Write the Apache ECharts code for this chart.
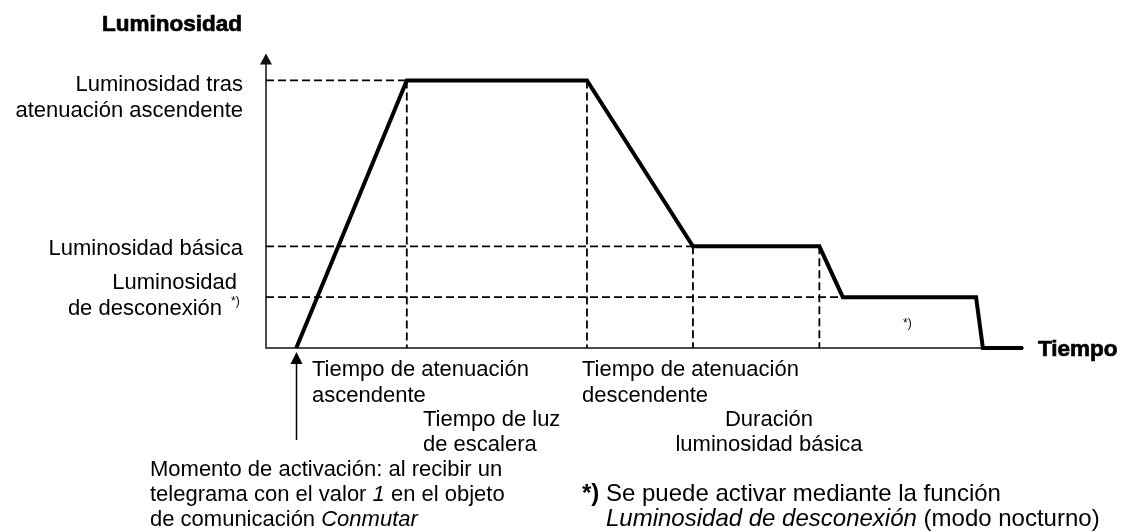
<!DOCTYPE html>
<html>
<head>
<meta charset="utf-8">
<script src="https://cdn.jsdelivr.net/npm/echarts@6/dist/echarts.min.js"></script>
<style>
  html, body { margin: 0; padding: 0; background: #fff; }
  #chart { width: 1145px; height: 532px; }
</style>
</head>
<body>
<div id="chart"></div>
<script>
// --------------------------------- datos ------------------------------

// curva de luminosidad (tiempo relativo 0..100, luminosidad en %)
const curveTime = [4, 18.6, 42.4, 56.4, 73.1, 76.2, 93.8, 94.7, 100]
const curveLevel = [0, 100, 100, 38, 38, 19, 19, 0, 0]

// líneas auxiliares horizontales: nivel y tiempo donde terminan
const levelValues = [100, 38, 19]
const levelEnds = [18.6, 73.1, 93.8]

// líneas auxiliares verticales: instante y altura hasta donde llegan
const markTimes = [18.6, 42.4, 56.4, 73.1]
const markTops = [100, 100, 38, 38]

// textos
const yTitle = 'Luminosidad'
const xTitle = 'Tiempo'

// --------------------------------- estilos ------------------------------

const FONT = "'Liberation Sans', Arial, Helvetica, sans-serif"
const FS = 22
const FS_NOTE = 24

function txt (text, x, y, align, extra) {
  return {
    type: 'text',
    silent: true,
    style: Object.assign({
      text: text,
      x: x,
      y: y,
      fill: '#000',
      fontSize: FS,
      fontFamily: FONT,
      align: align || 'left',
      verticalAlign: 'middle'
    }, extra || {})
  }
}

function rt (extra, size) {
  return Object.assign({ fontSize: size || FS, fontFamily: FONT, fill: '#000' }, extra || {})
}

const heavy = { fontWeight: 'bold', fontSize: 22.5, stroke: '#000', lineWidth: 0.7 }

const dashed = { color: '#000', width: 1.8, type: [8, 4] }

// series auxiliares (discontinuas)
const guideSeries = []
levelValues.forEach(function (lvl, i) {
  guideSeries.push({
    type: 'line',
    data: [[0, lvl], [levelEnds[i], lvl]],
    symbol: 'none',
    silent: true,
    lineStyle: dashed,
    z: 2
  })
})
markTimes.forEach(function (t, i) {
  guideSeries.push({
    type: 'line',
    data: [[t, markTops[i]], [t, 0]],
    symbol: 'none',
    silent: true,
    lineStyle: dashed,
    z: 2
  })
})

const option = {
  animation: false,
  backgroundColor: '#fff',
  grid: { left: 266, right: 122, top: 59, bottom: 184 },
  xAxis: {
    type: 'value',
    min: 0,
    max: 100,
    axisLine: { show: true, lineStyle: { color: '#4a4a4a', width: 2 } },
    axisTick: { show: false },
    axisLabel: { show: false },
    splitLine: { show: false }
  },
  yAxis: {
    type: 'value',
    min: 0,
    max: 108,
    axisLine: {
      show: true,
      symbol: ['none', 'triangle'],
      symbolSize: [12, 11],
      lineStyle: { color: '#111', width: 1.5 }
    },
    axisTick: { show: false },
    axisLabel: { show: false },
    splitLine: { show: false }
  },
  series: guideSeries.concat([{
    type: 'line',
    data: curveTime.map(function (t, i) { return [t, curveLevel[i]] }),
    symbol: 'none',
    clip: false,
    silent: true,
    lineStyle: { color: '#000', width: 4, join: 'miter', cap: 'butt' },
    z: 3
  }])
}

const chart = echarts.init(document.getElementById('chart'))
chart.setOption(option)

// flecha del momento de activación, anclada al primer punto de la curva
const start = chart.convertToPixel({ gridIndex: 0 }, [curveTime[0], 0])
const ax = Math.round(start[0]) + 0.5

chart.setOption({
  graphic: [
    txt(yTitle, 242, 25, 'right', heavy),
    txt(xTitle, 1038, 350, 'left', heavy),

    txt('Luminosidad tras', 243, 85, 'right'),
    txt('atenuación ascendente', 243, 111, 'right'),
    txt('Luminosidad básica', 243, 249, 'right'),
    txt('Luminosidad', 237, 283, 'right'),
    txt('de desconexión', 222, 309, 'right'),
    txt('*)', 231, 302, 'left', { fontSize: 12 }),

    txt('*)', 903, 324, 'left', { fontSize: 12 }),

    txt('Tiempo de atenuación', 312, 370),
    txt('ascendente', 312, 396),
    txt('Tiempo de luz', 423, 420),
    txt('de escalera', 423, 445),
    txt('Tiempo de atenuación', 582, 370),
    txt('descendente', 582, 396),
    txt('Duración', 769, 420, 'center'),
    txt('luminosidad básica', 769, 445, 'center'),

    txt('Momento de activación: al recibir un', 150, 470),
    txt('telegrama con el valor {i|1} en el objeto', 150, 495, 'left',
      { rich: { i: rt({ fontStyle: 'italic' }) } }),
    txt('de comunicación {i|Conmutar}', 150, 520, 'left',
      { rich: { i: rt({ fontStyle: 'italic' }) } }),

    txt('{b|*)} Se puede activar mediante la función', 582, 494, 'left',
      { fontSize: FS_NOTE, rich: { b: rt({ fontWeight: 'bold' }, FS_NOTE) } }),
    txt('{i|Luminosidad de desconexión} {p|(modo nocturno)}', 606, 519, 'left',
      { fontSize: FS_NOTE, rich: { i: rt({ fontStyle: 'italic' }, FS_NOTE), p: rt({}, FS_NOTE) } }),

    {
      type: 'line',
      silent: true,
      shape: { x1: ax, y1: 440, x2: ax, y2: 362 },
      style: { stroke: '#000', lineWidth: 1.5 }
    },
    {
      type: 'polygon',
      silent: true,
      shape: { points: [[ax, start[1] + 4], [ax - 6, start[1] + 16], [ax + 6, start[1] + 16]] },
      style: { fill: '#000' }
    }
  ]
})
</script>
</body>
</html>
